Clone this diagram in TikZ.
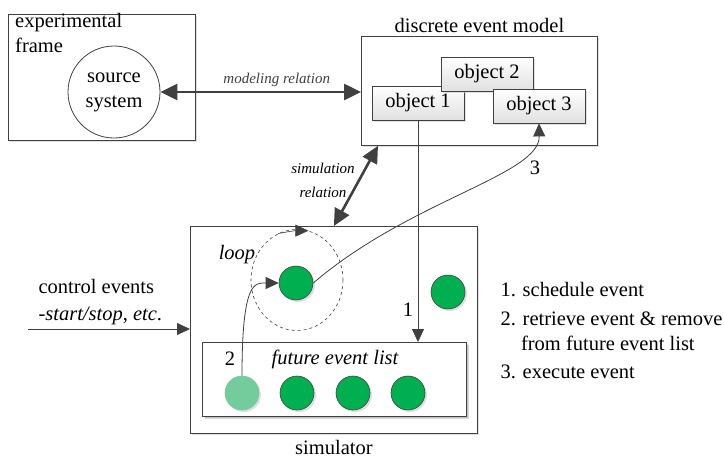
\documentclass[tikz,border=0pt]{standalone}
\usepackage{fontspec}
\setmainfont{Liberation Serif}
\usetikzlibrary{positioning,arrows.meta,shadows,shapes.geometric,calc}

\definecolor{evgreen}{HTML}{00B050}
\definecolor{evfaded}{HTML}{74CC9C}
\definecolor{lncol}{HTML}{404040}

\tikzset{
    txt/.style={font=\fontsize{20.5}{25}\selectfont},
    lbl/.style={font=\fontsize{15}{24}\selectfont\itshape},
    box/.style={draw=lncol, line width=0.8pt, fill=white,
        drop shadow={shadow xshift=2pt, shadow yshift=-2pt, fill=black!20, opacity=0.6}},
    obj/.style={box, txt, minimum width=92, minimum height=34, inner sep=0,
        top color=white, bottom color=black!12},
    ev/.style={circle, draw=lncol, fill=evgreen, minimum size=34, line width=0.6pt,
        drop shadow={shadow xshift=2pt, shadow yshift=-2pt, fill=black!25, opacity=0.5}},
    rel/.style={lncol, line width=2.6pt,
        {Triangle[length=17pt,width=16pt]}-{Triangle[length=17pt,width=16pt]}},
    flow/.style={lncol, line width=0.8pt, -{Triangle[length=13pt,width=12pt]}},
}

\begin{document}
\begin{tikzpicture}[x=1pt,y=-1pt]
    \useasboundingbox (0,0) rectangle (724,461);

    % experimental frame
    \node[box, minimum width=187, minimum height=126, anchor=north west] (ef) at (8,14) {};
    \node[txt, align=left, anchor=north west, inner sep=0] (eflbl) at (15,13) {experimental\\frame};
    \node[circle, draw=lncol, line width=0.8pt, txt, align=center, minimum size=92, inner sep=0] (src) at (114,92) {source\\system};

    % discrete event model
    \node[box, minimum width=236, minimum height=109, anchor=north west] (dem) at (361,36) {};
    \node[txt, above=0pt of dem] (demlbl) {discrete event model};
    \node[obj] (obj1) at (418,103) {object 1};
    \node[obj] (obj2) at (487,74) {object 2};
    \node[obj] (obj3) at (539,106) {object 3};

    \draw[rel] (src.east) -- node[lbl, above=1pt, pos=0.58] (modlbl) {modeling relation} (dem.west |- src.east);

    % simulator
    \node[box, minimum width=287, minimum height=207, anchor=north west] (sim) at (190,226) {};
    \node[txt, below=3pt of sim] (simlbl) {simulator};
    \draw[rel] (sim.north) -- ($(dem.south west)+(17,0)$);
    \node[lbl, align=center] (simrel) at (323,180) {simulation\\relation};

    \node[ellipse, draw=lncol, dashed, line width=0.6pt, minimum width=92, minimum height=101] (loop) at (297,280) {};
    \draw[lncol, line width=0.6pt, -{Triangle[length=13pt,width=12pt]}] (loop.112) to[bend left=6] (loop.77);
    \node[txt, font=\fontsize{20.5}{25}\selectfont\itshape] (looplbl) at (237,255) {loop};
    \node[ev] (cur) at (296,283) {};
    \node[ev] (idle) at (448,292) {};

    \node[box, minimum width=264, minimum height=74, anchor=north west, drop shadow={opacity=0.3}] (fel) at (202,342) {};
    \node[txt, font=\fontsize{20.5}{25}\selectfont\itshape] (fellbl) at (335,359) {future event list};
    \node[ev, fill=evfaded, draw=evfaded] (f1) at (242,393) {};
    \node[ev] (f2) at (297,393) {};
    \node[ev] (f3) at (353,393) {};
    \node[ev] (f4) at (408,393) {};

    % numbered steps
    \draw[flow] (obj1.south) -- (obj1.south |- fel.north);
    \node[txt] (n1) at (408,310) {1};
    \draw[flow] (f1.north) .. controls (242,280) and (255,283) .. (cur.west);
    \node[txt] (n2) at (230,359) {2};
    \draw[flow] (cur.east) .. controls (410,200) and (540,175) .. (obj3.south);
    \node[txt] (n3) at (535,168) {3};

    % control input
    \coordinate (ctl) at (28,329);
    \draw[flow] (ctl) -- (ctl -| sim.west);
    \node[txt, font=\fontsize{20.5}{27}\selectfont, align=left, anchor=west] (ctllbl) at (35,302) {control events\\-\textit{start/stop}, \textit{etc}.};

    \node[txt, align=left, anchor=north west] (legend) at (497,279)
        {1. schedule event\\[3.5pt]2. retrieve event \& remove\\\hphantom{2.\ }from future event list\\[3.5pt]3. execute event};
\end{tikzpicture}
\end{document}
